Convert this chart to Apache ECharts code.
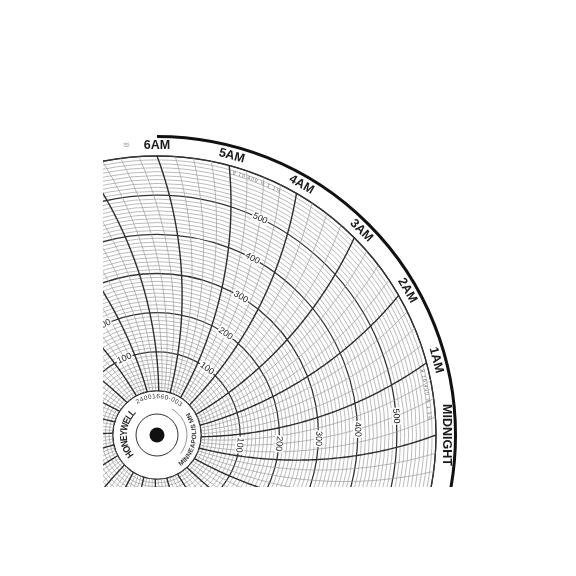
<!DOCTYPE html>
<html>
<head>
<meta charset="utf-8">
<title>Honeywell 24h circular chart</title>
<script src="https://cdn.jsdelivr.net/npm/echarts@6/dist/echarts.min.js"></script>
<style>
html, body { margin: 0; padding: 0; background: #fff; width: 576px; height: 576px; overflow: hidden; }
#main { position: absolute; left: 103px; top: 0; width: 473px; height: 487px; }
</style>
</head>
<body>
<div id="main"></div>
<script>
// hour labels, one per hour, starting at midnight (0 h)
var hourLabels = ['MIDNIGHT', '1AM', '2AM', '3AM', '4AM', '5AM', '6AM', '7AM', '8AM', '9AM', '10AM', '11AM',
                  'NOON', '1PM', '2PM', '3PM', '4PM', '5PM', '6PM', '7PM', '8PM', '9PM', '10PM', '11PM'];
// printed ring values and the time lines they are printed along
var ringValues = [100, 200, 300, 400, 500];
var ringLabelHours = [0.5, 4.5, 8.5, 12.5, 16.5, 20.5];
// small scale note printed near the rim
var scaleNote = '8 10 400 ½ 1 1½';
var scaleNoteHours = [0.5, 4.5, 8.5, 12.5, 16.5, 20.5];

var valueMax = 600;     // chart range 0 - 600
var minorHour = 0.25;   // 15 minute time lines
var penArm = 400;       // radius (px) of the curved time lines

var myChart = echarts.init(document.getElementById('main'));

// time lines every 15 minutes
var timeLines = [];
for (var i = 0; i < 24 / minorHour; i++) {
    timeLines.push([0, i * minorHour]);
}
var ringLabelData = [];
ringLabelHours.forEach(function (h) {
    ringValues.forEach(function (v) { ringLabelData.push([v, h]); });
});

// angular lag (deg) of a pen arc at pixel radius rpx
function bend(rpx, R) {
    return (Math.acos(rpx / (2 * penArm)) - Math.acos(R / (2 * penArm))) * 180 / Math.PI;
}
function wrap(h) {
    return ((h % 24) + 24) % 24;
}
function toPx(cs, v) {
    return cs.r0 + (cs.r - cs.r0) * v / valueMax;
}

function renderTimeLine(params, api) {
    var h = api.value(1);
    var cs = params.coordSys;
    var pts = [];
    for (var v = 0; v <= valueMax; v += 5) {
        pts.push(api.coord([v, wrap(h - bend(toPx(cs, v), cs.r) / 15)]));
    }
    var major = Math.abs(h - Math.round(h)) < 1e-6;
    return {
        type: 'polyline',
        shape: { points: pts },
        style: { fill: null, stroke: major ? '#2e2e2e' : '#999', lineWidth: major ? 1.4 : 0.7 }
    };
}

function renderRingLabel(params, api) {
    var v = api.value(0), h = api.value(1), cs = params.coordSys;
    var p = api.coord([v, wrap(h - bend(toPx(cs, v), cs.r) / 15)]);
    var ang = Math.atan2(-(p[1] - cs.cy), p[0] - cs.cx);
    return {
        type: 'text', x: p[0], y: p[1], rotation: ang - Math.PI / 2,
        style: {
            text: String(v), font: '9px "Liberation Sans", Arial, sans-serif', fill: '#222',
            align: 'center', verticalAlign: 'middle', backgroundColor: '#fff', padding: [0, 1]
        }
    };
}

function renderHourLabel(params, api) {
    var h = api.value(1), cs = params.coordSys;
    var p = api.coord([valueMax, h]);
    var dx = p[0] - cs.cx, dy = p[1] - cs.cy;
    var len = Math.sqrt(dx * dx + dy * dy);
    var k = (len + 10) / len;
    var ang = Math.atan2(-dy, dx);
    return {
        type: 'text', x: cs.cx + dx * k, y: cs.cy + dy * k, rotation: ang - Math.PI / 2,
        style: {
            text: hourLabels[params.dataIndex], font: 'bold 12.5px "Liberation Sans", Arial, sans-serif',
            fill: '#1a1a1a', align: 'center', verticalAlign: 'middle'
        }
    };
}

// text set along an arc, one glyph at a time
var measureCtx = document.createElement('canvas').getContext('2d');
function arcText(children, str, cx, cy, r, fromDeg, toDeg, font, fill, outward, sx) {
    measureCtx.font = font;
    var widths = [], total = 0;
    for (var i = 0; i < str.length; i++) {
        var w = measureCtx.measureText(str[i]).width;
        widths.push(w);
        total += w;
    }
    var acc = 0;
    for (var j = 0; j < str.length; j++) {
        var t = (acc + widths[j] / 2) / total;
        acc += widths[j];
        var a = (fromDeg + (toDeg - fromDeg) * t) * Math.PI / 180;
        children.push({
            type: 'text',
            x: cx + r * Math.cos(a), y: cy - r * Math.sin(a),
            rotation: outward ? a - Math.PI / 2 : a + Math.PI / 2,
            scaleX: sx || 1,
            style: { text: str[j], font: font, fill: fill, align: 'center', verticalAlign: 'middle' }
        });
    }
}

function renderDecor(params, api) {
    var cs = params.coordSys;
    var cx = cs.cx, cy = cs.cy;
    var children = [];
    // heavy rim arc
    children.push({
        type: 'arc',
        shape: { cx: cx, cy: cy, r: cs.r + 19.5, startAngle: -Math.PI / 2, endAngle: 25 * Math.PI / 180, clockwise: true },
        style: { fill: null, stroke: '#111', lineWidth: 3 }
    });
    // hub
    children.push({ type: 'circle', shape: { cx: cx, cy: cy, r: cs.r0 - 0.5 }, style: { fill: '#fff', stroke: null } });
    children.push({ type: 'circle', shape: { cx: cx, cy: cy, r: 21 }, style: { fill: null, stroke: '#333', lineWidth: 1 } });
    children.push({ type: 'circle', shape: { cx: cx, cy: cy, r: 7.5 }, style: { fill: '#111', stroke: null } });
    children.push({
        type: 'arc',
        shape: { cx: cx, cy: cy, r: 30, startAngle: -60 * Math.PI / 180, endAngle: 38 * Math.PI / 180, clockwise: true },
        style: { fill: null, stroke: '#777', lineWidth: 0.8 }
    });
    arcText(children, 'HONEYWELL', cx, cy, 33, 220, 134, 'bold 10px "Liberation Sans", Arial, sans-serif', '#222', true, 0.85);
    arcText(children, '24001660-003', cx, cy, 38.5, 123, 50, '6.5px "Liberation Sans", Arial, sans-serif', '#333', true);
    arcText(children, 'MINNEAPOLIS MN', cx, cy, 37.5, -53, 35, 'bold 6.5px "Liberation Sans", Arial, sans-serif', '#333', false);
    // small scale notes near the rim
    scaleNoteHours.forEach(function (h) {
        var c = h * 15 + 1;
        arcText(children, scaleNote, cx, cy, cs.r - 6, c + 5.5, c - 5.5, '5px "Liberation Sans", Arial, sans-serif', '#666', true);
    });
    // faint maker's stamp beside 6AM
    arcText(children, '≋', cx, cy, cs.r + 12, 97, 95, '9px "DejaVu Sans", sans-serif', '#aaa', true);
    return { type: 'group', children: children };
}

var option = {
    animation: false,
    backgroundColor: '#fff',
    polar: { center: [54, 435], radius: [44, 279] },
    angleAxis: {
        type: 'value', min: 0, max: 24, startAngle: 0, clockwise: false,
        axisLine: { show: true, lineStyle: { color: '#333', width: 1.2 } },
        axisTick: { show: false }, axisLabel: { show: false }, splitLine: { show: false }
    },
    radiusAxis: {
        type: 'value', min: 0, max: valueMax, interval: 100,
        axisLine: { show: false }, axisTick: { show: false }, axisLabel: { show: false },
        splitLine: { show: true, lineStyle: { color: '#333', width: 1.3 } },
        minorTick: { show: false, splitNumber: 10 },
        minorSplitLine: { show: true, lineStyle: { color: '#9e9e9e', width: 0.7 } }
    },
    series: [
        { type: 'custom', coordinateSystem: 'polar', silent: true, data: timeLines, renderItem: renderTimeLine },
        { type: 'custom', coordinateSystem: 'polar', silent: true, data: ringLabelData, renderItem: renderRingLabel },
        { type: 'custom', coordinateSystem: 'polar', silent: true,
          data: hourLabels.map(function (t, i) { return [valueMax, i]; }), renderItem: renderHourLabel },
        { type: 'custom', coordinateSystem: 'polar', silent: true, data: [[0, 0]], renderItem: renderDecor }
    ]
};
myChart.setOption(option);
</script>
</body>
</html>
